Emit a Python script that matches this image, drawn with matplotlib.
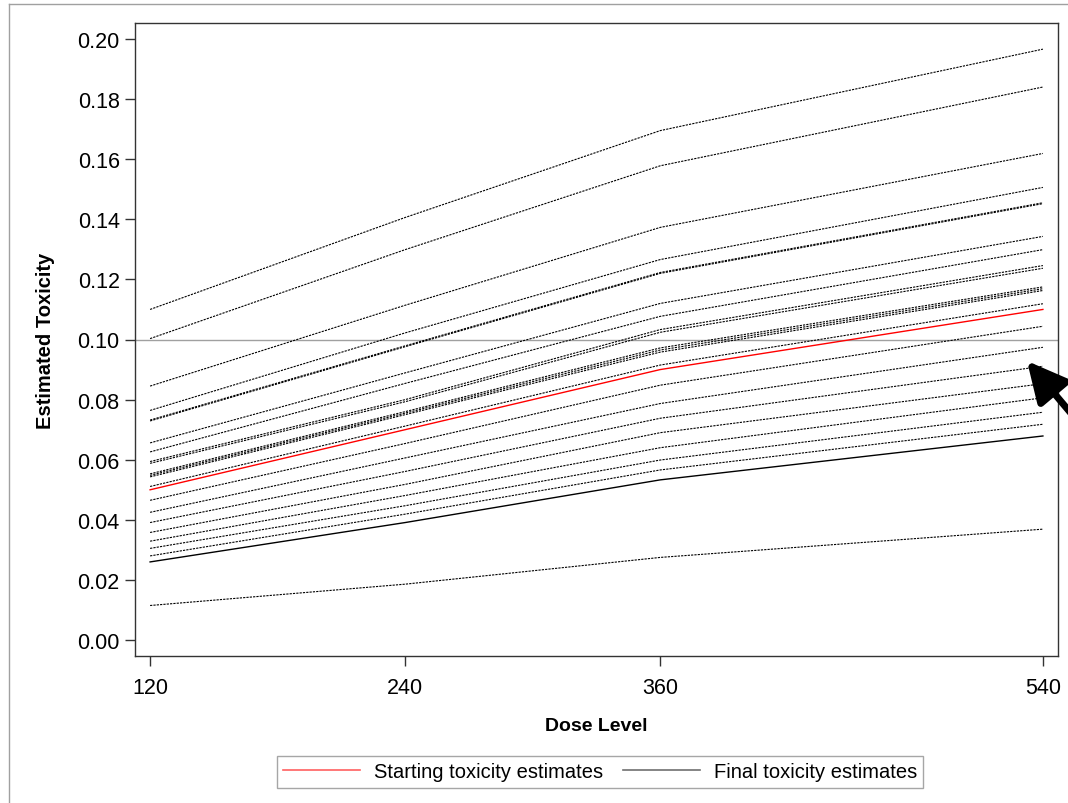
import matplotlib
matplotlib.use('Agg')
import matplotlib.pyplot as plt
from matplotlib.lines import Line2D

plt.rcParams['font.family'] = ['Liberation Sans', 'DejaVu Sans']

doses = [120, 240, 360, 540]

# starting estimates (red)
start_est = [0.050, 0.070, 0.090, 0.110]

# final estimates, one row per simulated trial
final_est = [
    [0.1100, 0.1406, 0.1695, 0.1966],
    [0.1003, 0.1299, 0.1578, 0.1840],
    [0.0845, 0.1114, 0.1373, 0.1619],
    [0.0764, 0.1022, 0.1266, 0.1506],
    [0.0732, 0.0979, 0.1223, 0.1455],
    [0.0729, 0.0976, 0.1220, 0.1452],
    [0.0656, 0.0889, 0.1120, 0.1343],
    [0.0626, 0.0854, 0.1077, 0.1299],
    [0.0594, 0.0800, 0.1033, 0.1246],
    [0.0588, 0.0793, 0.1024, 0.1237],
    [0.0553, 0.0760, 0.0972, 0.1175],
    [0.0548, 0.0755, 0.0965, 0.1169],
    [0.0543, 0.0750, 0.0958, 0.1163],
    [0.0511, 0.0712, 0.0915, 0.1119],
    [0.0465, 0.0654, 0.0848, 0.1044],
    [0.0425, 0.0606, 0.0787, 0.0974],
    [0.0391, 0.0561, 0.0738, 0.0911],
    [0.0358, 0.0518, 0.0690, 0.0853],
    [0.0329, 0.0481, 0.0640, 0.0806],
    [0.0305, 0.0447, 0.0599, 0.0758],
    [0.0280, 0.0419, 0.0566, 0.0718],
    [0.0260, 0.0391, 0.0533, 0.0679],
    [0.0115, 0.0186, 0.0275, 0.0369],
]
solid_rows = [21]

target = 0.10
yticks = [0.00, 0.02, 0.04, 0.06, 0.08, 0.10, 0.12, 0.14, 0.16, 0.18, 0.20]

fig = plt.figure(figsize=(10.68, 8.04), dpi=100)
W, H = 1068, 804
ax = fig.add_axes([135 / W, 1 - 657 / H, (1058 - 135) / W, (657 - 24) / H])

ax.axhline(target, color='#a0a0a0', lw=1.0, zorder=1)

for i, row in enumerate(final_est):
    if i in solid_rows:
        ax.plot(doses, row, color='black', lw=1.0, zorder=2)
    else:
        ax.plot(doses, row, color='black', lw=0.8, linestyle=(0, (2, 1)), zorder=2)

ax.plot(doses, start_est, color='red', lw=1.0, zorder=3)

ax.set_xlim(112.9, 547.1)
ax.set_ylim(-0.0053, 0.2053)
ax.set_xticks(doses)
ax.set_yticks(yticks)
ax.set_yticklabels([f"{v:.2f}" for v in yticks])
ax.tick_params(axis='both', direction='out', length=7, width=1, labelsize=15.5, color='#333333')
ax.tick_params(axis='y', pad=4)
ax.tick_params(axis='x', pad=8)
for s in ax.spines.values():
    s.set_linewidth(1.0)
    s.set_color('#333333')

ax.set_xlabel("Dose Level", fontsize=14, fontweight='bold', labelpad=14)
ax.set_ylabel("Estimated Toxicity", fontsize=14.5, fontweight='bold', labelpad=16)

handles = [Line2D([], [], color='#ff6060', lw=1.2),
           Line2D([], [], color='#707070', lw=1.2)]
leg = fig.legend(handles, ["Starting toxicity estimates", "Final toxicity estimates"],
                 loc='center', bbox_to_anchor=(600 / W, 1 - 773 / H), ncol=2,
                 fontsize=14.5, frameon=True, fancybox=False, handlelength=3.8,
                 columnspacing=1.0, handletextpad=0.7, borderpad=0.3)
leg.get_frame().set_edgecolor('#909090')
leg.get_frame().set_linewidth(1.0)

# outer frame of the graph area
fig.add_artist(Line2D([9 / W, 1], [1 - 5 / H, 1 - 5 / H], color='#a0a0a0', lw=1.0))
fig.add_artist(Line2D([9 / W, 9 / W], [0, 1 - 5 / H], color='#a0a0a0', lw=1.0))

# arrow pointing at the target line crossing
ax.annotate('', xy=(1027, H - 362), xycoords='figure pixels',
            xytext=(1080, H - 425), textcoords='figure pixels',
            arrowprops=dict(arrowstyle='-|>,head_width=0.55,head_length=1.1',
                            lw=5, color='black', mutation_scale=22,
                            shrinkA=0, shrinkB=0),
            annotation_clip=False)

fig.savefig("out.png", dpi=100)
